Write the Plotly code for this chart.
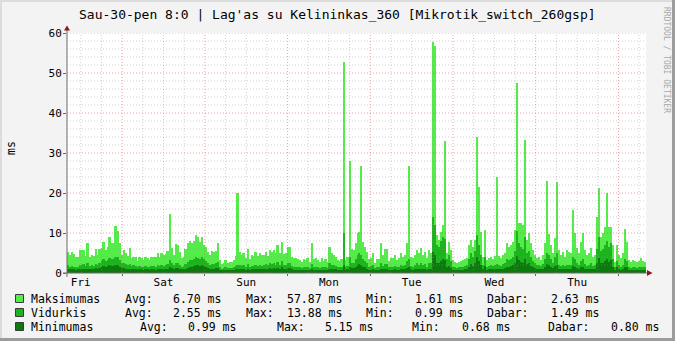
import pandas as pd
import plotly.graph_objects as go

# ---------------- data (ms), one value per ~35 min step, Fri 08:00 -> next Fri 08:00 ----------------
start_time = "2015-01-23 08:00"
n_days = 7

maksimumas = [
    # Fri
    5.2, 4.5, 5.2, 4.7, 3.9, 3.9, 5.75, 5.75, 5.75, 4.25, 7.4, 4.1, 4.5, 4.25, 6.0, 4.5, 5.9, 6.2, 7.8, 5.75,
    6.4, 8.9, 7.6, 7.6, 11.75, 10.5, 7.6, 4.5, 5.75, 4.9, 4.25, 6.2, 3.7, 4.1, 4.1, 3.0, 4.1, 3.7, 3.25, 4.1,
    3.7, 3.25, 4.1, 4.1, 3.9, 4.9, 4.1, 4.9, 4.5,
    # Sat
    4.75, 5.6, 14.75, 6.2, 4.5, 7.25, 7.0, 5.3, 3.7, 4.1, 5.9, 7.4, 8.0, 7.6, 8.1, 9.5, 8.9, 7.8, 9.1, 7.0,
    6.6, 5.3, 4.5, 5.6, 5.3, 5.6, 7.4, 3.25, 2.2, 2.6, 3.25, 2.6, 2.8, 2.8, 3.25, 4.25, 20.0, 5.3, 4.5, 4.9,
    3.7, 5.9, 3.4, 4.5, 4.25, 5.3, 4.25, 5.1, 4.5,
    # Sun
    4.5, 5.3, 4.25, 5.75, 5.3, 5.75, 4.9, 7.0, 4.9, 7.8, 4.75, 4.9, 6.6, 6.4, 4.1, 3.7, 3.7, 3.4, 3.25, 2.8,
    3.4, 3.25, 3.7, 2.8, 7.6, 3.4, 3.7, 3.25, 2.8, 3.7, 3.1, 3.4, 2.8, 6.6, 4.9, 4.5, 4.1, 3.25, 3.1, 3.4,
    52.8, 3.25, 3.9, 28.0, 5.9, 5.75, 7.4, 9.9, 10.3,
    # Mon
    26.75, 7.8, 6.6, 5.3, 3.4, 3.7, 4.9, 2.4, 3.4, 3.4, 7.4, 4.5, 5.9, 5.9, 3.1, 3.7, 3.7, 4.5, 3.25, 3.7,
    4.9, 4.1, 4.5, 7.4, 26.75, 4.1, 3.7, 4.5, 5.75, 4.9, 6.2, 4.5, 5.3, 3.7, 5.75, 5.1, 57.8, 56.8, 9.5, 8.25,
    10.3, 12.0, 33.0, 4.9, 7.8, 5.75, 3.25, 2.8, 2.6,
    # Tue / Wed
    2.8, 3.1, 3.25, 3.4, 3.7, 7.0, 8.25, 6.6, 8.25, 34.0, 21.6, 10.3, 4.1, 10.75, 3.25, 3.7, 4.1, 3.4, 4.25, 24.0,
    4.25, 3.7, 4.5, 4.9, 7.4, 6.6, 7.0, 7.8, 10.75, 47.6, 12.5, 12.4, 12.0, 33.25, 8.25, 9.9, 7.4, 5.75, 4.5, 3.7,
    4.1, 3.25, 4.5, 7.6, 23.0, 9.75, 7.0, 4.9, 8.7,
    # Thu
    22.7, 5.75, 4.5, 5.3, 4.1, 5.75, 5.3, 5.1, 15.75, 9.9, 6.2, 4.9, 7.8, 9.9, 5.75, 4.5, 4.9, 6.2, 4.1, 4.5,
    14.0, 21.25, 9.0, 9.9, 11.6, 20.0, 11.4, 11.6, 7.0, 2.8, 7.0, 4.5, 3.7, 4.9, 10.9, 7.8, 3.25, 2.8, 3.25, 3.1,
    2.8, 3.1, 3.7, 3.1, 2.63,
]

vidurkis = [
    2.0, 1.6, 1.8, 1.5, 1.4, 1.6, 2.0, 1.9, 2.2, 1.8, 2.4, 1.7, 1.9, 1.8, 2.3, 2.0, 2.6, 3.0, 3.4, 3.0,
    3.2, 3.8, 3.5, 3.6, 4.0, 3.9, 3.2, 2.4, 2.6, 2.2, 2.0, 2.3, 1.8, 1.9, 1.8, 1.5, 1.7, 1.6, 1.5, 1.7,
    1.6, 1.5, 1.8, 1.7, 1.6, 1.9, 1.7, 1.9, 1.8,
    1.9, 2.2, 3.2, 2.5, 2.0, 2.6, 2.5, 2.1, 1.6, 1.8, 2.3, 2.8, 3.2, 3.3, 3.5, 4.0, 3.8, 3.5, 4.1, 3.4,
    3.0, 2.6, 2.0, 2.3, 2.2, 2.4, 2.8, 1.5, 1.1, 1.2, 1.4, 1.2, 1.3, 1.3, 1.5, 1.8, 2.0, 2.0, 1.8, 1.9,
    1.6, 2.2, 1.6, 1.8, 1.8, 2.1, 1.8, 2.0, 1.8,
    1.9, 2.2, 1.9, 2.4, 2.2, 2.4, 2.0, 2.8, 2.1, 3.0, 2.0, 2.1, 2.6, 2.6, 1.8, 1.6, 1.6, 1.5, 1.4, 1.3,
    1.5, 1.4, 1.6, 1.3, 2.2, 1.5, 1.6, 1.4, 1.3, 1.6, 1.4, 1.5, 1.3, 2.4, 2.0, 1.9, 1.8, 1.5, 1.4, 1.5,
    10.0, 1.5, 1.8, 4.0, 2.6, 2.5, 3.4, 4.6, 5.0,
    4.5, 3.5, 3.0, 2.4, 1.6, 1.7, 2.0, 1.2, 1.5, 1.5, 2.6, 1.8, 2.2, 2.3, 1.4, 1.6, 1.6, 1.8, 1.4, 1.6,
    2.0, 1.8, 2.0, 3.0, 3.6, 1.8, 1.6, 2.0, 2.4, 2.0, 2.6, 2.0, 2.2, 1.6, 2.4, 2.6, 13.88, 12.0, 7.0, 6.5,
    8.0, 9.0, 8.5, 3.5, 4.5, 3.0, 1.6, 1.4, 1.3,
    1.4, 1.6, 1.6, 1.8, 2.0, 3.5, 5.0, 4.0, 5.5, 9.5, 7.0, 4.5, 2.0, 4.0, 1.6, 1.8, 2.0, 1.7, 2.0, 2.2,
    2.0, 1.8, 2.2, 2.4, 3.5, 3.2, 3.6, 4.0, 5.5, 10.5, 7.5, 6.5, 6.0, 9.0, 5.0, 5.5, 4.0, 3.0, 2.4, 2.0,
    2.0, 1.7, 2.2, 3.6, 5.0, 4.5, 3.5, 2.4, 4.0,
    5.0, 2.0, 1.8, 2.0, 1.7, 2.0, 2.0, 2.0, 4.0, 3.5, 2.6, 2.0, 3.0, 3.5, 2.2, 1.8, 2.0, 2.4, 1.8, 2.0,
    6.0, 9.0, 5.5, 6.0, 7.0, 8.0, 6.5, 7.5, 3.5, 1.4, 3.0, 2.0, 1.6, 2.0, 3.5, 3.0, 1.4, 1.3, 1.4, 1.4,
    1.3, 1.4, 1.6, 1.5, 1.49,
]

minimumas = [
    1.0, 0.9, 1.0, 0.9, 0.8, 0.9, 1.0, 1.0, 1.1, 1.0, 1.1, 0.9, 1.0, 1.0, 1.2, 1.1, 1.3, 1.5, 1.7, 1.6,
    1.7, 1.9, 1.8, 1.8, 2.0, 1.9, 1.6, 1.2, 1.3, 1.1, 1.0, 1.1, 0.9, 1.0, 0.9, 0.8, 0.9, 0.9, 0.8, 0.9,
    0.9, 0.8, 0.9, 0.9, 0.8, 1.0, 0.9, 1.0, 0.9,
    1.0, 1.1, 1.4, 1.2, 1.0, 1.3, 1.2, 1.1, 0.9, 0.9, 1.1, 1.3, 1.5, 1.6, 1.7, 2.0, 1.9, 1.8, 2.0, 1.7,
    1.5, 1.3, 1.0, 1.1, 1.1, 1.2, 1.3, 0.8, 0.7, 0.7, 0.8, 0.7, 0.7, 0.7, 0.8, 0.9, 1.0, 1.0, 0.9, 1.0,
    0.8, 1.1, 0.8, 0.9, 0.9, 1.0, 0.9, 1.0, 0.9,
    1.0, 1.1, 1.0, 1.2, 1.1, 1.2, 1.0, 1.3, 1.0, 1.4, 1.0, 1.0, 1.2, 1.2, 0.9, 0.8, 0.8, 0.8, 0.7, 0.7,
    0.8, 0.7, 0.8, 0.7, 1.0, 0.8, 0.8, 0.7, 0.7, 0.8, 0.7, 0.8, 0.7, 1.1, 1.0, 0.9, 0.9, 0.8, 0.7, 0.8,
    2.0, 0.8, 0.9, 1.5, 1.3, 1.2, 1.6, 2.0, 2.2,
    2.0, 1.6, 1.4, 1.1, 0.8, 0.8, 0.9, 0.7, 0.8, 0.8, 1.1, 0.9, 1.0, 1.0, 0.7, 0.8, 0.8, 0.9, 0.7, 0.8,
    0.9, 0.9, 0.9, 1.2, 1.4, 0.9, 0.8, 0.9, 1.0, 0.9, 1.1, 0.9, 1.0, 0.8, 1.0, 1.1, 5.15, 4.5, 2.6, 2.5,
    3.0, 3.4, 3.2, 1.5, 1.8, 1.3, 0.8, 0.7, 0.7,
    0.7, 0.8, 0.8, 0.9, 1.0, 1.6, 2.2, 1.8, 2.4, 4.0, 3.0, 2.0, 1.0, 1.8, 0.8, 0.9, 1.0, 0.9, 1.0, 1.1,
    1.0, 0.9, 1.1, 1.2, 1.6, 1.5, 1.7, 1.9, 2.4, 4.2, 3.2, 2.8, 2.6, 3.6, 2.2, 2.4, 1.8, 1.4, 1.2, 1.0,
    1.0, 0.9, 1.1, 1.6, 2.2, 2.0, 1.6, 1.2, 1.8,
    2.0, 1.0, 0.9, 1.0, 0.9, 1.0, 1.0, 1.0, 1.8, 1.6, 1.2, 1.0, 1.4, 1.6, 1.1, 0.9, 1.0, 1.1, 0.9, 1.0,
    2.6, 3.8, 2.4, 2.6, 3.0, 3.4, 2.8, 3.2, 1.6, 0.8, 1.4, 1.0, 0.8, 1.0, 1.6, 1.4, 0.8, 0.7, 0.8, 0.8,
    0.7, 0.8, 0.8, 0.8, 0.80,
]

series_names = ["Maksimumas", "Vidurkis", "Minimumas"]
stat_avg = ["6.70 ms", "2.55 ms", "0.99 ms"]
stat_max = ["57.87 ms", "13.88 ms", "5.15 ms"]
stat_min = ["1.61 ms", "0.99 ms", "0.68 ms"]
stat_now = ["2.63 ms", "1.49 ms", "0.80 ms"]

title_text = "Sau-30-pen 8:0 | Lag'as su Kelininkas_360 [Mikrotik_switch_260gsp]"
y_ticks = [0, 10, 20, 30, 40, 50, 60]

# ---------------- styling ----------------
colors = ["#54EC48", "#1CB41C", "#0C7A0C"]
W, H = 675, 341
L, R, T, B = 67, 29, 33, 68
PW, PH = W - L - R, H - T - B
FONT = "DejaVu Sans Mono"


def px(x):
    return (x - L) / PW


def py(y):
    return (H - B - y) / PH


t0 = pd.Timestamp(start_time)
t1 = t0 + pd.Timedelta(days=n_days)
N = len(maksimumas)
step = (t1 - t0) / N
step_ms = step.total_seconds() * 1000.0

fig = go.Figure()
for name, vals, col in zip(series_names, [maksimumas, vidurkis, minimumas], colors):
    xs = [t0 + step * i for i in range(len(vals))]
    fig.add_trace(go.Bar(
        x=xs, y=vals, width=step_ms, offset=0, name=name,
        marker=dict(color=col, line=dict(width=0)), showlegend=False,
    ))

shapes = []
# grid drawn over the data, as rrdtool does
for v in range(0, 61, 2):
    if v == 0:
        continue
    major = v % 10 == 0
    shapes.append(dict(type="line", xref="paper", yref="y", x0=0, x1=1, y0=v, y1=v,
                       line=dict(color="rgba(225,80,80,0.55)" if major else "rgba(150,150,150,0.45)",
                                 width=1, dash="1px,2px"), layer="above"))
t = pd.Timestamp("2015-01-23 12:00")
while t < t1:
    major = t.hour == 0
    shapes.append(dict(type="line", xref="x", yref="paper", x0=t, x1=t, y0=0, y1=1,
                       line=dict(color="rgba(225,80,80,0.55)" if major else "rgba(150,150,150,0.45)",
                                 width=1, dash="1px,2px"), layer="above"))
    t += pd.Timedelta(hours=6)

axis_col = "#6A6A6A"
arrow_col = "#8B1A1A"
# axes
shapes.append(dict(type="line", xref="paper", yref="paper", x0=px(67), x1=px(67), y0=py(277), y1=py(29),
                   line=dict(color=axis_col, width=1), layer="above"))
shapes.append(dict(type="line", xref="paper", yref="paper", x0=px(63), x1=px(648), y0=py(273), y1=py(273),
                   line=dict(color=axis_col, width=1), layer="above"))
# arrows
shapes.append(dict(type="path", xref="paper", yref="paper",
                   path=f"M {px(64.0)} {py(30.5)} L {px(70.0)} {py(30.5)} L {px(67.0)} {py(25.5)} Z",
                   fillcolor=arrow_col, line=dict(width=0), layer="above"))
shapes.append(dict(type="path", xref="paper", yref="paper",
                   path=f"M {px(647.0)} {py(270.0)} L {px(647.0)} {py(276.0)} L {px(652.5)} {py(273.0)} Z",
                   fillcolor=arrow_col, line=dict(width=0), layer="above"))
# 3D frame of the image
shapes.append(dict(type="rect", xref="paper", yref="paper", x0=px(0), x1=px(W), y0=py(0), y1=py(2),
                   fillcolor="#DCDCDC", line=dict(width=0)))
shapes.append(dict(type="rect", xref="paper", yref="paper", x0=px(0), x1=px(2), y0=py(0), y1=py(H),
                   fillcolor="#DCDCDC", line=dict(width=0)))
shapes.append(dict(type="rect", xref="paper", yref="paper", x0=px(W - 3), x1=px(W), y0=py(0), y1=py(H),
                   fillcolor="#9C9C9C", line=dict(width=0)))
shapes.append(dict(type="rect", xref="paper", yref="paper", x0=px(0), x1=px(W), y0=py(H - 3), y1=py(H),
                   fillcolor="#9C9C9C", line=dict(width=0)))

annotations = []
annotations.append(dict(text=title_text, x=px(W / 2), y=py(14), xref="paper", yref="paper",
                        xanchor="center", yanchor="middle", showarrow=False,
                        font=dict(family=FONT, size=13, color="#000000")))
annotations.append(dict(text="ms", x=px(11), y=py(148), xref="paper", yref="paper", textangle=-90,
                        xanchor="center", yanchor="middle", showarrow=False,
                        font=dict(family=FONT, size=11.5, color="#000000")))
annotations.append(dict(text="RRDTOOL / TOBI OETIKER", x=px(666), y=py(5), xref="paper", yref="paper",
                        textangle=90, xanchor="center", yanchor="top", showarrow=False,
                        font=dict(family=FONT, size=8, color="#A8A8A8")))

row_y = [298.5, 312.5, 326.5]
cols_a = [124, 172.2, 244.5, 286.3, 365, 414, 486.4, 550.2]
cols_b = [138.6, 187.3, 275.5, 323.7, 411, 460.6, 546.7, 610.4]
lf = dict(family=FONT, size=11.5, color="#000000")
for i in range(3):
    yy = row_y[i]
    shapes.append(dict(type="rect", xref="paper", yref="paper", x0=px(15.5), x1=px(23.5),
                       y0=py(yy - 4), y1=py(yy + 4), fillcolor=colors[i],
                       line=dict(color="#3A3A3A", width=1), layer="above"))
    annotations.append(dict(text=series_names[i], x=px(29), y=py(yy), xref="paper", yref="paper",
                            xanchor="left", yanchor="middle", showarrow=False, font=lf))
    cols = cols_b if i == 2 else cols_a
    pieces = ["Avg:", stat_avg[i], "Max:", stat_max[i], "Min:", stat_min[i], "Dabar:", stat_now[i]]
    for cx, txt in zip(cols, pieces):
        annotations.append(dict(text=txt, x=px(cx - 1), y=py(yy), xref="paper", yref="paper",
                                xanchor="left", yanchor="middle", showarrow=False, font=lf))

fig.update_layout(
    width=W, height=H, margin=dict(l=L, r=R, t=T, b=B, pad=0),
    paper_bgcolor="#F3F3F3", plot_bgcolor="#FFFFFF",
    barmode="overlay", bargap=0,
    shapes=shapes, annotations=annotations,
    xaxis=dict(type="date", range=[t0, t1], showgrid=False, zeroline=False, showline=False,
               tickformat="%a", ticklabelmode="period", dtick=86400000, tick0="2015-01-23 00:00",
               ticks="outside", ticklen=2, tickcolor=axis_col, ticklabelstandoff=-3,
               tickfont=dict(family=FONT, size=11, color="#000000"), fixedrange=True),
    yaxis=dict(range=[0, 60], tickvals=y_ticks, showgrid=False, zeroline=False, showline=False,
               ticks="outside", ticklen=3, tickcolor=axis_col, ticklabelstandoff=-1,
               tickfont=dict(family=FONT, size=11, color="#000000"), fixedrange=True),
    font=dict(family=FONT),
)

fig.write_html("out.html", config={"displayModeBar": False})
